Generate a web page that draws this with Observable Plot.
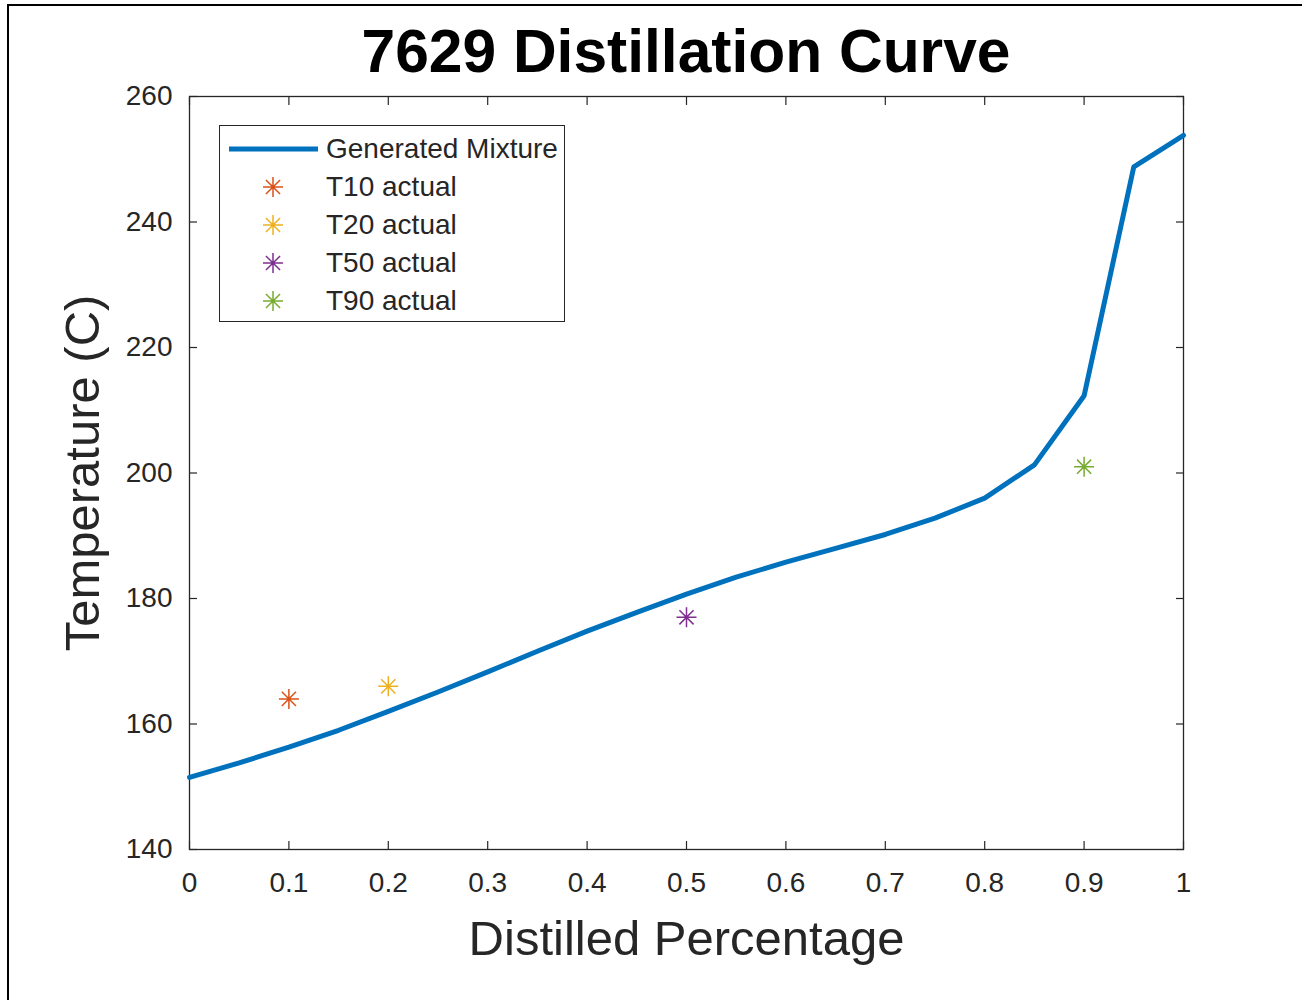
<!DOCTYPE html>
<html>
<head>
<meta charset="utf-8">
<script src="https://cdn.jsdelivr.net/npm/d3@7"></script>
<script src="https://cdn.jsdelivr.net/npm/@observablehq/plot@0.6"></script>
<style>
  html, body { margin: 0; padding: 0; background: #fff; }
  #wrap { position: relative; width: 1302px; height: 1000px; background: #fff; overflow: hidden;
          font-family: "Liberation Sans", Arial, Helvetica, sans-serif; color: #262626; }
  #border { position: absolute; left: 7px; top: 4px; right: -10px; bottom: -10px;
            border-top: 2px solid #000; border-left: 2px solid #000; pointer-events: none; }
  #title { position: absolute; left: 189px; width: 994px; top: 21px; text-align: center;
           font-size: 60.5px; line-height: 60px; font-weight: bold; color: #000; margin: 0; }
  #chart { position: absolute; left: 0; top: 80px; }
  #legend { position: absolute; left: 219px; top: 125px; width: 344px; height: 195px;
            border: 1px solid #262626; background: #fff; }
  .row { position: absolute; left: 0; height: 38px; width: 100%; }
  .row .sw { position: absolute; left: 9px; top: 0; width: 90px; height: 38px; }
  .row .lab { position: absolute; left: 106px; top: 0; line-height: 38px; font-size: 28px; color: #262626; white-space: nowrap; }
</style>
</head>
<body>
<div id="wrap">
  <div id="border"></div>
  <div id="title">7629 Distillation Curve</div>
  <div id="chart"></div>
  <div id="legend"></div>
</div>
<script>
// ---- data ----
const distilled = [0, 0.05, 0.1, 0.15, 0.2, 0.25, 0.3, 0.35, 0.4, 0.45, 0.5, 0.55, 0.6, 0.65, 0.7, 0.75, 0.8, 0.85, 0.9, 0.95, 1];
const temperature = [151.5, 153.8, 156.3, 159.0, 162.0, 165.1, 168.3, 171.6, 174.8, 177.8, 180.7, 183.4, 185.8, 188.0, 190.2, 192.8, 196.0, 201.3, 212.3, 248.8, 253.8];
const lineLabel = "Generated Mixture";
const actualLabels = ["T10 actual", "T20 actual", "T50 actual", "T90 actual"];
const actualX = [0.1, 0.2, 0.5, 0.9];
const actualT = [164, 166, 177, 201];
const xTicks = [0, 0.1, 0.2, 0.3, 0.4, 0.5, 0.6, 0.7, 0.8, 0.9, 1];
const yTicks = [140, 160, 180, 200, 220, 240, 260];
const xLabel = "Distilled Percentage";
const yLabel = "Temperature (C)";

// ---- styles ----
const lineColor = "#0072BD";
const markerColors = ["#D95319", "#EDB120", "#7E2F8E", "#77AC30"];
const axisColor = "#262626";

const curve = distilled.map((x, i) => ({x, t: temperature[i]}));
const actual = actualLabels.map((name, i) => ({name, x: actualX[i], t: actualT[i]}));

// MATLAB-style 8-point asterisk
const asterisk = {
  draw(context, size) {
    const r = Math.sqrt(size / Math.PI);
    const d = r * Math.SQRT1_2;
    context.moveTo(0, -r); context.lineTo(0, r);
    context.moveTo(-r, 0); context.lineTo(r, 0);
    context.moveTo(-d, -d); context.lineTo(d, d);
    context.moveTo(-d, d); context.lineTo(d, -d);
  }
};

const fontFamily = '"Liberation Sans", Arial, Helvetica, sans-serif';

const chart = Plot.plot({
  width: 1302,
  height: 920,
  marginLeft: 189,
  marginRight: 119,
  marginTop: 16,
  marginBottom: 151,
  style: {fontFamily, color: axisColor, background: "transparent", overflow: "visible"},
  x: {domain: [0, 1]},
  y: {domain: [140, 260]},
  color: {domain: actualLabels, range: markerColors},
  marks: [
    // inward ticks on all four sides
    Plot.axisX(xTicks, {anchor: "bottom", tickSize: -8, tickFormat: () => "", label: null, stroke: axisColor, strokeWidth: 1.2}),
    Plot.axisX(xTicks, {anchor: "top", tickSize: -8, tickFormat: () => "", label: null, stroke: axisColor, strokeWidth: 1.2}),
    Plot.axisY(yTicks, {anchor: "left", tickSize: -8, tickFormat: () => "", label: null, stroke: axisColor, strokeWidth: 1.2}),
    Plot.axisY(yTicks, {anchor: "right", tickSize: -8, tickFormat: () => "", label: null, stroke: axisColor, strokeWidth: 1.2}),
    // tick labels
    Plot.axisX(xTicks, {anchor: "bottom", tickSize: 0, tickPadding: 23, fontSize: 28, fill: axisColor, tickFormat: d => String(d), label: null}),
    Plot.axisY(yTicks, {anchor: "left", tickSize: 0, tickPadding: 17, fontSize: 28, fill: axisColor, tickFormat: d => String(d), label: null}),
    // axis titles
    Plot.axisX([], {anchor: "bottom", tickSize: 0, fontSize: 49, fill: axisColor, label: xLabel, labelAnchor: "center", labelArrow: "none", labelOffset: 105}),
    Plot.axisY([], {anchor: "left", tickSize: 0, fontSize: 49, fill: axisColor, label: yLabel, labelAnchor: "center", labelArrow: "none", labelOffset: 125}),
    Plot.frame({stroke: axisColor, strokeWidth: 1.3}),
    Plot.line(curve, {x: "x", y: "t", stroke: lineColor, strokeWidth: 5, strokeLinejoin: "round"}),
    Plot.dot(actual, {x: "x", y: "t", stroke: "name", symbol: asterisk, r: 10, strokeWidth: 1.5})
  ]
});
document.getElementById("chart").appendChild(chart);

// ---- legend ----
const legend = document.getElementById("legend");
const rows = [{type: "line", label: lineLabel}].concat(actualLabels.map((l, i) => ({type: "dot", label: l, color: markerColors[i]})));
rows.forEach((r, i) => {
  const row = document.createElement("div");
  row.className = "row";
  row.style.top = (4 + i * 38) + "px";
  const sw = d3.create("svg").attr("class", "sw").attr("width", 90).attr("height", 38);
  if (r.type === "line") {
    sw.append("line").attr("x1", 0).attr("x2", 89).attr("y1", 19).attr("y2", 19)
      .attr("stroke", lineColor).attr("stroke-width", 5);
  } else {
    const p = d3.path();
    asterisk.draw(p, Math.PI * 10 * 10);
    sw.append("path").attr("transform", "translate(44,19)").attr("d", p.toString())
      .attr("stroke", r.color).attr("stroke-width", 1.5).attr("fill", "none");
  }
  row.appendChild(sw.node());
  const lab = document.createElement("div");
  lab.className = "lab";
  lab.textContent = r.label;
  row.appendChild(lab);
  legend.appendChild(row);
});
</script>
</body>
</html>
